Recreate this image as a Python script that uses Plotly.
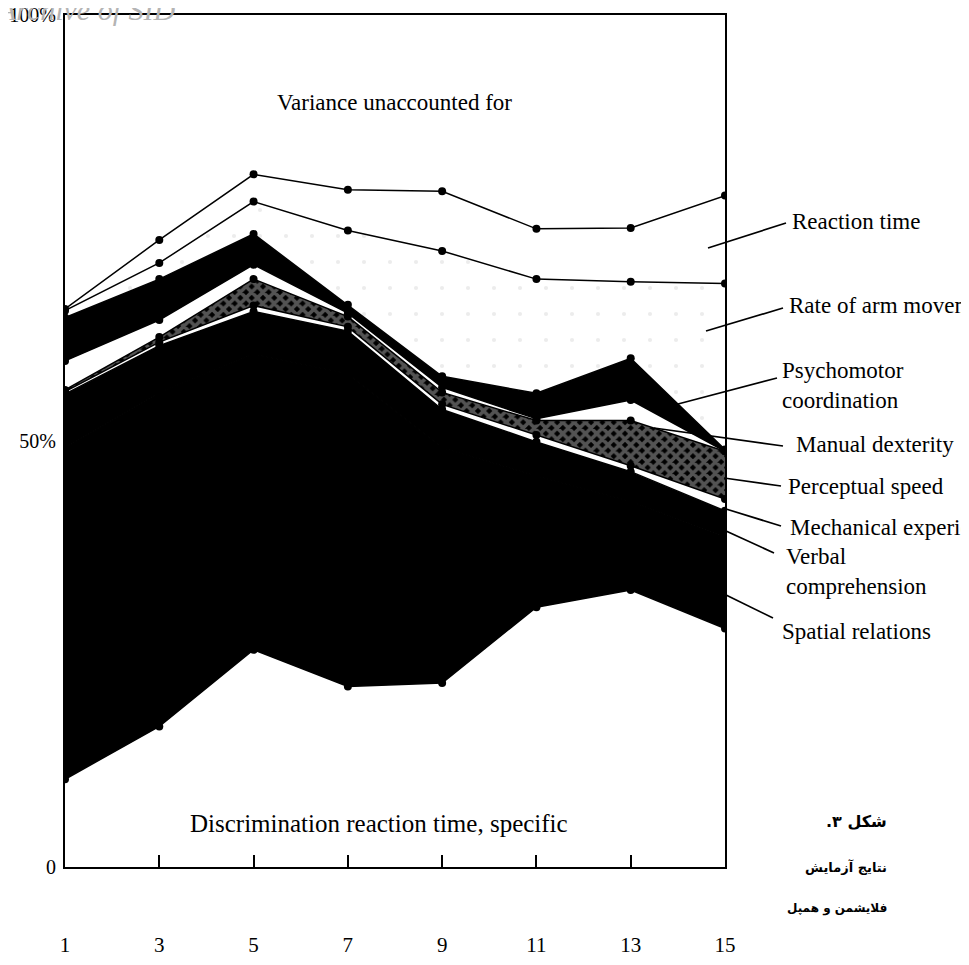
import plotly.graph_objects as go

# ---------------- data (percent of variance, per factor, stacked bottom -> top) -------------
stages = [1, 3, 5, 7, 9, 11, 13, 15]
tick_labels = ["1", "3", "5", "7", "9", "11", "13", "15"]

drt_specific = [10.3, 16.5, 25.5, 21.2, 21.6, 30.5, 32.5, 28.0]
spatial_relations = [38.9, 39.2, 34.7, 36.7, 27.6, 15.4, 10.4, 10.8]
verbal_comprehension = [6.3, 5.5, 5.0, 5.0, 4.5, 4.0, 3.5, 3.0]
mechanical_experience = [0.3, 0.4, 0.7, 0.5, 0.6, 0.8, 0.7, 1.4]
perceptual_speed = [0.2, 0.6, 3.1, 1.2, 1.4, 1.7, 5.3, 5.6]
manual_dexterity = [3.4, 2.0, 1.7, 0.4, 0.6, 0.2, 2.4, 0.0]
psychomotor_coord = [5.1, 4.8, 3.6, 1.0, 1.3, 3.0, 4.9, 0.2]
rate_arm_movement = [0.8, 1.9, 3.8, 8.7, 14.7, 13.4, 9.0, 19.5]
reaction_time = [0.2, 2.7, 3.2, 4.8, 7.0, 5.9, 6.3, 10.3]

SERIF = "Liberation Serif, Times New Roman, serif"
FS = 23

layers = [
    ("Discrimination reaction time, specific", drt_specific, "white", None),
    ("Spatial relations", spatial_relations, "black", None),
    ("Verbal comprehension", verbal_comprehension, "black", None),
    ("Mechanical experience", mechanical_experience, "white", None),
    ("Perceptual speed", perceptual_speed, "black",
     dict(shape="x", fgcolor="#a6a6a6", bgcolor="black", size=8, solidity=0.7)),
    ("Manual dexterity", manual_dexterity, "white", None),
    ("Psychomotor coordination", psychomotor_coord, "black", None),
    ("Rate of arm movement", rate_arm_movement, "white",
     dict(shape=".", fgcolor="#dadada", bgcolor="white", size=26, solidity=0.02)),
    ("Reaction time", reaction_time, "white", None),
]

fig = go.Figure()
for name, vals, color, pattern in layers:
    tr = dict(
        x=stages, y=vals, name=name, stackgroup="one",
        mode="lines+markers",
        line=dict(color="black", width=1.5),
        marker=dict(color="black", size=8),
        fillcolor=color,
        hoverinfo="skip",
    )
    if pattern is not None:
        tr["fillpattern"] = pattern
    fig.add_trace(go.Scatter(**tr))

# ---------------- geometry (screen pixels of the plot frame) ----------------
W, H = 969, 965
L, R, T, B = 64, 724, 14, 866   # frame as it should appear on screen
OFF = 7                         # page body offset


def px(xs):
    return (xs - L) / (R - L)


def py(ys):
    return (B - ys) / (B - T)


annotations = []

annotations.append(dict(x=px(393), y=py(87), xref="paper", yref="paper",
                        text="Variance unaccounted for", showarrow=False,
                        font=dict(family=SERIF, size=FS, color="black")))
annotations.append(dict(x=px(378), y=py(838), xref="paper", yref="paper",
                        text="Discrimination reaction time, specific", showarrow=False,
                        font=dict(family=SERIF, size=25, color="black")))

# right-hand factor labels: (text, left x px, center y px)
labels = [
    ("Reaction time", 789, 220),
    ("Rate of arm movement", 786, 304),
    ("Psychomotor<br>coordination", 779, 384),
    ("Manual dexterity", 793, 443),
    ("Perceptual speed", 785, 485),
    ("Mechanical experience", 787, 526),
    ("Verbal<br>comprehension", 783, 570),
    ("Spatial relations", 779, 630),
]
for text, lx, ly in labels:
    annotations.append(dict(x=px(lx), y=py(ly), xref="paper", yref="paper",
                            text=text, showarrow=False, xanchor="left", yanchor="middle",
                            align="left",
                            font=dict(family=SERIF, size=FS, color="black")))

# pointer lines from labels into the chart
pointers = [
    (707, 247, 785, 222),
    (705, 330, 782, 307),
    (677, 403, 776, 377),
    (653, 427, 782, 445),
    (723, 477, 780, 485),
    (725, 508, 780, 525),
    (725, 530, 773, 552),
    (723, 593, 772, 617),
]
shapes = []
for x0, y0, x1, y1 in pointers:
    shapes.append(dict(type="line", xref="paper", yref="paper",
                       x0=px(x0), y0=py(y0), x1=px(x1), y1=py(y1),
                       line=dict(color="black", width=1.7)))

# Persian caption
PERSIAN = "DejaVu Sans, Noto Sans, sans-serif"
RLM = "\u200f"
annotations.append(dict(x=px(888), y=py(832), xref="paper", yref="paper",
                        text="<b>" + RLM + "شکل ۳." + RLM + "</b>", showarrow=False,
                        xanchor="right",
                        font=dict(family=PERSIAN, size=16, color="black")))
annotations.append(dict(x=px(888), y=py(876), xref="paper", yref="paper",
                        text="<b>نتایج آزمایش</b>", showarrow=False, xanchor="right",
                        font=dict(family=PERSIAN, size=13, color="black")))
annotations.append(dict(x=px(888), y=py(917), xref="paper", yref="paper",
                        text="<b>فلایشمن و همپل</b>", showarrow=False, xanchor="right",
                        font=dict(family=PERSIAN, size=12, color="black")))

# faded watermark at top-left (partly cut by the page edge, as in the scan)
annotations.append(dict(x=px(176), y=py(27), xref="paper", yref="paper",
                        text="<i>Archive of SID</i>", showarrow=False,
                        xanchor="right", yanchor="bottom",
                        font=dict(family=SERIF, size=30, color="#b4b4b4")))

fig.update_layout(
    width=W, height=H,
    margin=dict(l=L - OFF, r=W - (R - OFF), t=T - OFF, b=H - (B - OFF), pad=0,
                autoexpand=False),
    paper_bgcolor="white", plot_bgcolor="white",
    showlegend=False,
    annotations=annotations,
    shapes=shapes,
    font=dict(family=SERIF, size=FS, color="black"),
)
fig.update_xaxes(
    range=[1, 15], tickvals=stages, ticktext=tick_labels,
    ticks="inside", ticklen=12, tickwidth=1.5, tickcolor="black",
    showline=True, linewidth=2, linecolor="black", mirror=True,
    showgrid=False, zeroline=False, ticklabelstandoff=58, automargin=False,
    ticklabeloverflow="allow",
    tickfont=dict(family=SERIF, size=21, color="black"),
)
fig.update_yaxes(
    range=[0, 100], tickvals=[0, 50, 100], ticktext=["0", "50%", "100%"],
    ticks="", showline=True, linewidth=2, linecolor="black", mirror=True,
    showgrid=False, zeroline=False, ticklabelstandoff=3, automargin=False,
    ticklabeloverflow="allow",
    tickfont=dict(family=SERIF, size=20, color="black"),
)

fig.write_html("out.html")
